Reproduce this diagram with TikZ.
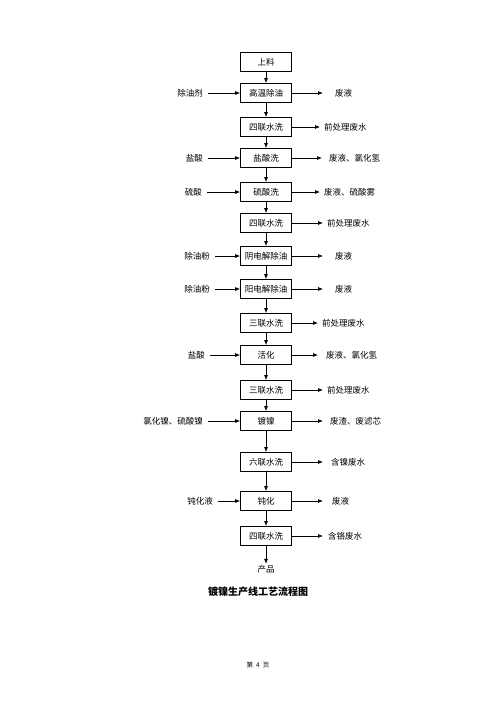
\documentclass[tikz,border=0pt]{standalone}
\usepackage{fontspec}
\setmainfont{Noto Sans CJK SC}
\usetikzlibrary{arrows.meta,positioning,calc}

\begin{document}
\begin{tikzpicture}[x=1pt, y=-1pt,
  stepbox/.style={rectangle, draw, line width=0.8pt, minimum width=51pt,
                  minimum height=19pt, inner sep=0pt, font=\fontsize{8.5}{9}\selectfont},
  inlbl/.style={anchor=east, inner xsep=5pt, inner ysep=0pt, font=\fontsize{8.5}{9}\selectfont},
  outlbl/.style={anchor=west, inner xsep=4pt, inner ysep=0pt, font=\fontsize{8.5}{9}\selectfont},
  edge/.style={draw, line width=0.7pt, -{Latex[length=5pt,width=4pt]}},
]
  \useasboundingbox (0,0) rectangle (500,707);

  % ========= main process chain =========
  \node[stepbox] (s1)  at (266,62)  {上料};
  \node[stepbox] (s2)  at (266,93)  {高温除油};
  \node[stepbox] (s3)  at (266,127) {四联水洗};
  \node[stepbox] (s4)  at (266,158) {盐酸洗};
  \node[stepbox] (s5)  at (266,192) {硫酸洗};
  \node[stepbox] (s6)  at (266,223) {四联水洗};
  \node[stepbox] (s7)  at (266,256) {阴电解除油};
  \node[stepbox] (s8)  at (266,289) {阳电解除油};
  \node[stepbox] (s9)  at (266,323) {三联水洗};
  \node[stepbox] (s10) at (266,355) {活化};
  \node[stepbox] (s11) at (266,390) {三联水洗};
  \node[stepbox] (s12) at (266,421) {镀镍};
  \node[stepbox] (s13) at (266,462) {六联水洗};
  \node[stepbox] (s14) at (266,501) {钝化};
  \node[stepbox] (s15) at (266,536) {四联水洗};
  \node[inner sep=1pt, font=\fontsize{8.5}{9}\selectfont] (prod) at (266,569) {产品};

  \foreach \i [evaluate=\i as \j using int(\i+1)] in {1,...,14} {
    \draw[edge] (s\i) -- (s\j);
  }
  \draw[edge] (s15) -- (prod);

  % ========= inputs (left) =========
  \node[inlbl] (in2)  at (208,93)  {除油剂};
  \node[inlbl] (in4)  at (208,158) {盐酸};
  \node[inlbl] (in5)  at (207,192) {硫酸};
  \node[inlbl] (in7)  at (215,256) {除油粉};
  \node[inlbl] (in8)  at (215,289) {除油粉};
  \node[inlbl] (in10) at (210,355) {盐酸};
  \node[inlbl] (in12) at (208,421) {氯化镍、硫酸镍};
  \node[inlbl] (in14) at (218,501) {钝化液};

  \foreach \i in {2,4,5,7,8,10,12,14} {
    \draw[edge] (in\i.east) -- (s\i.west);
  }

  % ========= outputs (right) =========
  \node[outlbl, inner xsep=12pt] (out2) at (323,93)  {废液};
  \node[outlbl] (out3)  at (320,127) {前处理废水};
  \node[outlbl, inner xsep=7pt] (out4)  at (322,158) {废液、氯化氢};
  \node[outlbl] (out5)  at (320,192) {废液、硫酸雾};
  \node[outlbl] (out6)  at (323,223) {前处理废水};
  \node[outlbl, inner xsep=12pt] (out7)  at (323,256) {废液};
  \node[outlbl, inner xsep=12pt] (out8)  at (323,289) {废液};
  \node[outlbl] (out9)  at (318,323) {前处理废水};
  \node[outlbl, inner xsep=8pt] (out10) at (318,355) {废液、氯化氢};
  \node[outlbl] (out11) at (323,390) {前处理废水};
  \node[outlbl, inner xsep=7pt] (out12) at (323,421) {废渣、废滤芯};
  \node[outlbl, inner xsep=8pt] (out13) at (323,462) {含镍废水};
  \node[outlbl, inner xsep=9pt] (out14) at (323,501) {废液};
  \node[outlbl, inner xsep=5pt] (out15) at (323,536) {含铬废水};

  \foreach \i in {2,3,...,15} {
    \draw[edge] (s\i.east) -- (out\i.west);
  }

  % ========= captions =========
  \node[font=\fontsize{10}{11}\selectfont\bfseries] (title) at (258,592) {镀镍生产线工艺流程图};
  \node[font=\fontsize{6.5}{7}\selectfont] (page) at (258,665) {第\hspace{3pt}4\hspace{3pt}页};
\end{tikzpicture}
\end{document}
